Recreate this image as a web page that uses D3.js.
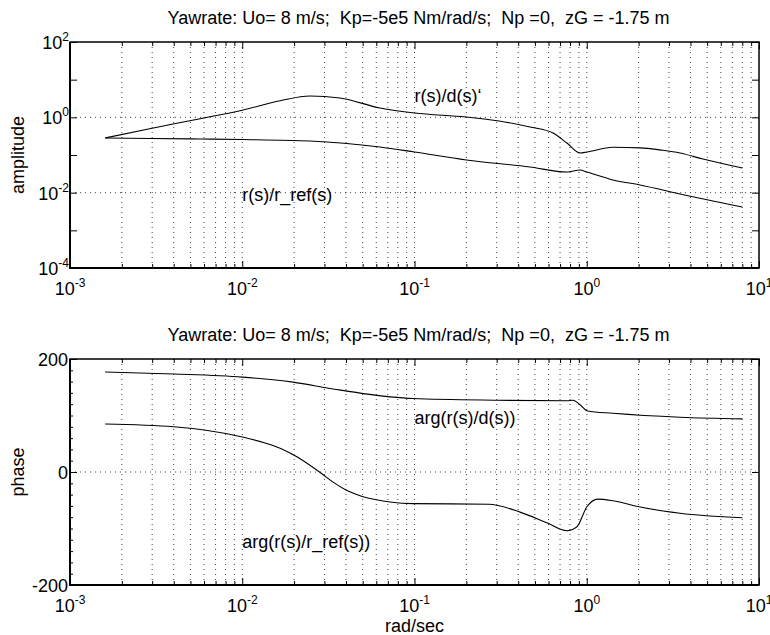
<!DOCTYPE html>
<html>
<head>
<meta charset="utf-8">
<script src="https://cdn.jsdelivr.net/npm/d3@7"></script>
<style>
  body { margin: 0; background: #fff; }
  svg { font-family: "Liberation Sans", Arial, Helvetica, sans-serif; }
  text { white-space: pre; }
</style>
</head>
<body>
<svg id="bode" width="770" height="635"></svg>
<script>
// ---- data ----
var titleText = "Yawrate: Uo= 8 m/s;  Kp=-5e5 Nm/rad/s;  Np =0,  zG = -1.75 m";

// amplitude r(s)/d(s)
var ampDistFreq = [0.0016, 0.0029, 0.0057, 0.01, 0.0166, 0.0247, 0.0369, 0.063, 0.1, 0.2, 0.31, 0.468, 0.637, 0.767, 0.914, 1.0, 1.42, 2.04, 2.7, 3.48, 4.73, 8];
var ampDist     = [0.283, 0.5, 0.92, 1.55, 2.75, 3.69, 3.26, 1.77, 1.30, 1.02, 0.80, 0.554, 0.384, 0.208, 0.113, 0.12, 0.16, 0.155, 0.135, 0.113, 0.078, 0.045];

// amplitude r(s)/r_ref(s)
var ampRefFreq = [0.0016, 0.0029, 0.0057, 0.01, 0.0247, 0.063, 0.1, 0.2, 0.468, 0.767, 0.914, 1.0, 1.42, 2.04, 3.48, 8];
var ampRef     = [0.283, 0.275, 0.266, 0.258, 0.236, 0.163, 0.12, 0.0738, 0.048, 0.0354, 0.0398, 0.0354, 0.0217, 0.016, 0.00923, 0.00417];

// phase arg(r(s)/d(s))
var phaseDistFreq = [0.0016, 0.004, 0.01, 0.0197, 0.0337, 0.0721, 0.098, 0.3, 0.767, 0.832, 0.914, 1.01, 1.42, 3.48, 8];
var phaseDist     = [177, 173.5, 168, 159, 147, 133, 130, 127, 126, 127, 119, 108, 104, 97, 94];

// phase arg(r(s)/r_ref(s))
var phaseRefFreq = [0.0016, 0.004, 0.01, 0.014, 0.0172, 0.021, 0.0247, 0.029, 0.0337, 0.04, 0.0483, 0.06, 0.0721, 0.098, 0.27, 0.41, 0.587, 0.767, 0.877, 1.0, 1.16, 1.42, 2.04, 3.48, 8];
var phaseRef     = [85, 80, 62, 50, 40, 26, 12, -3, -18, -32, -42, -49, -53, -56, -57, -71, -90, -104, -97, -62, -48, -51, -62, -73, -81];

// ticks
var xDecades = [-3, -2, -1, 0, 1];
var ampDecades = [-4, -3, -2, -1, 0, 1, 2];
var ampLabelled = [-4, -2, 0, 2];
var phaseTicks = [-200, 0, 200];
var phaseMinor = d3.range(-200, 201, 20);

// ---- layout ----
var svg = d3.select('#bode');
var left = 70, right = 759;
var panels = [{top: 42, bottom: 268}, {top: 359, bottom: 585}];

var xScale = d3.scaleLog().domain([1e-3, 1e1]).range([left, right]);

// every 2..9 x 10^k between the decades
var xMinor = [];
xDecades.slice(0, -1).forEach(function(k) {
  for (var m = 2; m <= 9; m++) xMinor.push(m * Math.pow(10, k));
});
var xMajor = xDecades.map(function(k) { return Math.pow(10, k); });

function powLabel(sel, exp, anchor) {
  // "10" with a raised exponent
  var t = sel.append('text')
    .attr('text-anchor', anchor)
    .style('font-size', '18px');
  t.append('tspan').text('10');
  t.append('tspan')
    .attr('dy', -8)
    .style('font-size', '12px')
    .text(exp);
  return t;
}

function drawPanel(p, yScale, opts) {
  var g = svg.append('g');
  var w = right - left, h = p.bottom - p.top;

  // dotted grid
  g.selectAll('.vgrid')
    .data(xMinor.concat(xMajor.slice(1, -1)))
    .enter().append('line')
    .attr('x1', function(d) { return xScale(d); })
    .attr('x2', function(d) { return xScale(d); })
    .attr('y1', p.top).attr('y2', p.bottom)
    .attr('stroke', '#444').attr('stroke-width', 1)
    .attr('stroke-dasharray', '1 4');
  g.selectAll('.hgrid')
    .data(opts.gridY)
    .enter().append('line')
    .attr('x1', left).attr('x2', right)
    .attr('y1', function(d) { return yScale(d); })
    .attr('y2', function(d) { return yScale(d); })
    .attr('stroke', '#444').attr('stroke-width', 1)
    .attr('stroke-dasharray', '1 4');

  // ticks, all pointing inwards
  var xb = d3.axisBottom(xScale).tickValues(xMinor).tickSize(-4).tickFormat('');
  var xbM = d3.axisBottom(xScale).tickValues(xMajor).tickSize(-7).tickFormat('');
  var xt = d3.axisTop(xScale).tickValues(xMinor).tickSize(-4).tickFormat('');
  var xtM = d3.axisTop(xScale).tickValues(xMajor).tickSize(-7).tickFormat('');
  [[xb, p.bottom], [xbM, p.bottom], [xt, p.top], [xtM, p.top]].forEach(function(a) {
    g.append('g').attr('transform', 'translate(0,' + a[1] + ')').call(a[0])
      .call(function(s) { s.select('.domain').remove(); });
  });
  var yl = d3.axisLeft(yScale).tickValues(opts.ticksY).tickSize(-7).tickFormat('');
  var yr = d3.axisRight(yScale).tickValues(opts.ticksY).tickSize(-7).tickFormat('');
  g.append('g').attr('transform', 'translate(' + left + ',0)').call(yl)
    .call(function(s) { s.select('.domain').remove(); });
  g.append('g').attr('transform', 'translate(' + right + ',0)').call(yr)
    .call(function(s) { s.select('.domain').remove(); });
  if (opts.minorY) {
    g.append('g').attr('transform', 'translate(' + left + ',0)')
      .call(d3.axisLeft(yScale).tickValues(opts.minorY).tickSize(-3).tickFormat(''))
      .call(function(s) { s.select('.domain').remove(); });
  }
  g.selectAll('.tick line').attr('stroke', '#000');

  // frame
  g.append('rect')
    .attr('x', left).attr('y', p.top).attr('width', w).attr('height', h)
    .attr('fill', 'none').attr('stroke', '#000').attr('stroke-width', 1.5);
  g.append('path')
    .attr('d', 'M' + left + ',' + p.top + 'V' + p.bottom + 'H' + right)
    .attr('fill', 'none').attr('stroke', '#000').attr('stroke-width', 2);

  // x tick labels
  xDecades.forEach(function(k) {
    powLabel(g, String(k), 'middle')
      .attr('x', xScale(Math.pow(10, k)))
      .attr('y', p.bottom + 27);
  });

  // curves
  opts.series.forEach(function(s) {
    var pts = s.f.map(function(f, i) { return [f, s.v[i]]; });
    var line = d3.line()
      .curve(d3.curveMonotoneX)
      .x(function(d) { return xScale(d[0]); })
      .y(function(d) { return yScale(d[1]); });
    g.append('path')
      .datum(pts)
      .attr('d', line)
      .attr('fill', 'none')
      .attr('stroke', '#000')
      .attr('stroke-width', 1.1);
  });

  // curve labels
  opts.labels.forEach(function(l) {
    g.append('text')
      .attr('x', l.x).attr('y', l.y)
      .style('font-size', '18px')
      .text(l.text);
  });

  // title
  g.append('text')
    .attr('x', (left + right) / 2 + 4)
    .attr('y', p.top - 18)
    .attr('text-anchor', 'middle')
    .style('font-size', '18px')
    .text(titleText);

  // y label
  g.append('text')
    .attr('transform', 'translate(24,' + (p.top + p.bottom) / 2 + ') rotate(-90)')
    .attr('text-anchor', 'middle')
    .style('font-size', '18px')
    .text(opts.yLabel);
  return g;
}

// amplitude panel
var yAmp = d3.scaleLog().domain([1e-4, 1e2]).range([panels[0].bottom, panels[0].top]);
var gAmp = drawPanel(panels[0], yAmp, {
  ticksY: ampDecades.map(function(k) { return Math.pow(10, k); }),
  gridY: [1e-2, 1e0],
  yLabel: 'amplitude',
  series: [{f: ampDistFreq, v: ampDist}, {f: ampRefFreq, v: ampRef}],
  labels: [{x: xScale(0.1), y: yAmp(2.6), text: 'r(s)/d(s)\u2018'},
           {x: xScale(0.01), y: yAmp(0.006), text: 'r(s)/r_ref(s)'}]
});
ampLabelled.forEach(function(k) {
  powLabel(gAmp, String(k), 'end')
    .attr('x', left - 1)
    .attr('y', yAmp(Math.pow(10, k)) + 7);
});

// phase panel
var yPh = d3.scaleLinear().domain([-200, 200]).range([panels[1].bottom, panels[1].top]);
var gPh = drawPanel(panels[1], yPh, {
  ticksY: phaseTicks,
  minorY: phaseMinor,
  gridY: [0],
  yLabel: 'phase',
  series: [{f: phaseDistFreq, v: phaseDist}, {f: phaseRefFreq, v: phaseRef}],
  labels: [{x: xScale(0.1), y: yPh(85), text: 'arg(r(s)/d(s))'},
           {x: xScale(0.01), y: yPh(-134), text: 'arg(r(s)/r_ref(s))'}]
});
gPh.selectAll('.plab')
  .data(phaseTicks)
  .enter().append('text')
  .attr('x', left - 2)
  .attr('y', function(d) { return yPh(d) + 7; })
  .attr('text-anchor', 'end')
  .style('font-size', '18px')
  .text(function(d) { return d; });

svg.append('text')
  .attr('x', xScale(0.1))
  .attr('y', 632)
  .attr('text-anchor', 'middle')
  .style('font-size', '18px')
  .text('rad/sec');
</script>
</body>
</html>
